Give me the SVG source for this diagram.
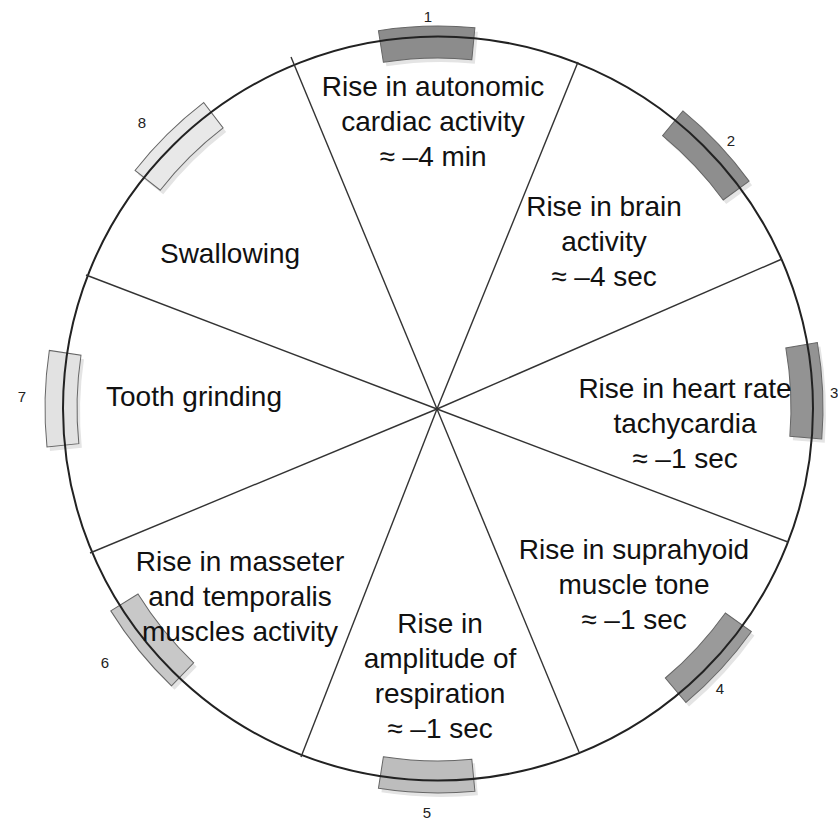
<svg xmlns="http://www.w3.org/2000/svg" width="838" height="821" viewBox="0 0 838 821">
  <style>
    .lbl { font-family: "Liberation Sans", Arial, sans-serif; font-size: 28px; fill: #111; text-anchor: middle; }
    .num { font-family: "Liberation Sans", Arial, sans-serif; font-size: 15px; fill: #222; text-anchor: middle; }
    .spoke { stroke: #333; stroke-width: 1.4; fill: none; }
    .rim { stroke: #222; stroke-width: 2; fill: none; }
    .mk { stroke: #666; stroke-width: 1; }
    .sh { fill: #e4e4e4; }
  </style>
  <defs>
    <!-- bent tab on the rim, drawn at 12 o'clock; rotated into place about the centre -->
    <path id="tab" d="M389.75,26.04 A385,385 0 0 1 486.25,26.04 L482.24,57.8 A353,353 0 0 0 393.76,57.8 Z"/>
  </defs>
  <rect width="838" height="821" fill="#fff"/>

  <!-- rim tabs with soft drop shadows -->
  <g id="tab-1">
    <use href="#tab" class="sh" transform="translate(3,7) rotate(-1.7 438 408)"/>
    <use href="#tab" class="mk" fill="#8c8c8c" transform="translate(0,3) rotate(-1.7 438 408)"/>
    <text class="num" x="428" y="22">1</text>
  </g>
  <g id="tab-2">
    <use href="#tab" class="sh" transform="translate(3,4) rotate(46.7 438 408)"/>
    <use href="#tab" class="mk" fill="#8e8e8e" transform="rotate(46.7 438 408)"/>
    <text class="num" x="731" y="146">2</text>
  </g>
  <g id="tab-3">
    <use href="#tab" class="sh" transform="translate(3,4) rotate(87.4 438 408)"/>
    <use href="#tab" class="mk" fill="#939393" transform="rotate(87.4 438 408)"/>
    <text class="num" x="830" y="398" style="text-anchor:start">3</text>
  </g>
  <g id="tab-4">
    <use href="#tab" class="sh" transform="translate(3,4) rotate(132.7 438 408)"/>
    <use href="#tab" class="mk" fill="#9a9a9a" transform="rotate(132.7 438 408)"/>
    <text class="num" x="720" y="694">4</text>
  </g>
  <g id="tab-5">
    <use href="#tab" class="sh" transform="translate(3,4) rotate(181.7 438 408)"/>
    <use href="#tab" class="mk" fill="#bdbdbd" transform="rotate(181.7 438 408)"/>
    <text class="num" x="427" y="818">5</text>
  </g>
  <g id="tab-6">
    <use href="#tab" class="sh" transform="translate(3,4) rotate(231 438 408)"/>
    <use href="#tab" class="mk" fill="#c8c8c8" transform="rotate(231 438 408)"/>
    <text class="num" x="105" y="668">6</text>
  </g>
  <g id="tab-7">
    <use href="#tab" class="sh" transform="translate(-5,4) rotate(271.4 438 408)"/>
    <use href="#tab" class="mk" fill="#e2e2e2" transform="translate(-8,0) rotate(271.4 438 408)"/>
    <text class="num" x="22" y="402">7</text>
  </g>
  <g id="tab-8">
    <use href="#tab" class="sh" transform="translate(3,4) rotate(315.3 438 408)"/>
    <use href="#tab" class="mk" fill="#e8e8e8" transform="rotate(315.3 438 408)"/>
    <text class="num" x="142" y="128">8</text>
  </g>

  <!-- outer rim -->
  <ellipse id="rim" class="rim" cx="438" cy="408.5" rx="375" ry="372"/>

  <!-- dividing spokes -->
  <g id="connectors">
    <line class="spoke" x1="437" y1="409" x2="291" y2="57"/>
    <line class="spoke" x1="437" y1="409" x2="578" y2="62"/>
    <line class="spoke" x1="437" y1="409" x2="782" y2="259"/>
    <line class="spoke" x1="437" y1="409" x2="788" y2="542"/>
    <line class="spoke" x1="437" y1="409" x2="579" y2="752"/>
    <line class="spoke" x1="437" y1="409" x2="301" y2="757"/>
    <line class="spoke" x1="437" y1="409" x2="90" y2="553"/>
    <line class="spoke" x1="437" y1="409" x2="86" y2="275"/>
  </g>

  <!-- sector labels -->
  <g id="autonomic">
    <text class="lbl" x="433" y="96">Rise in autonomic</text>
    <text class="lbl" x="433" y="131">cardiac activity</text>
    <text class="lbl" x="433" y="166">≈ –4 min</text>
  </g>
  <g id="brain">
    <text class="lbl" x="604" y="216">Rise in brain</text>
    <text class="lbl" x="604" y="251">activity</text>
    <text class="lbl" x="604" y="286">≈ –4 sec</text>
  </g>
  <g id="heart-rate">
    <text class="lbl" x="685" y="398">Rise in heart rate</text>
    <text class="lbl" x="685" y="433">tachycardia</text>
    <text class="lbl" x="685" y="468">≈ –1 sec</text>
  </g>
  <g id="suprahyoid">
    <text class="lbl" x="634" y="559">Rise in suprahyoid</text>
    <text class="lbl" x="634" y="594">muscle tone</text>
    <text class="lbl" x="634" y="629">≈ –1 sec</text>
  </g>
  <g id="respiration">
    <text class="lbl" x="440" y="633">Rise in</text>
    <text class="lbl" x="440" y="668">amplitude of</text>
    <text class="lbl" x="440" y="703">respiration</text>
    <text class="lbl" x="440" y="738">≈ –1 sec</text>
  </g>
  <g id="masseter">
    <text class="lbl" x="240" y="571">Rise in masseter</text>
    <text class="lbl" x="240" y="606">and temporalis</text>
    <text class="lbl" x="240" y="641">muscles activity</text>
  </g>
  <g id="swallowing">
    <text class="lbl" x="230" y="263">Swallowing</text>
  </g>
  <g id="grinding">
    <text class="lbl" x="194" y="406">Tooth grinding</text>
  </g>
</svg>
